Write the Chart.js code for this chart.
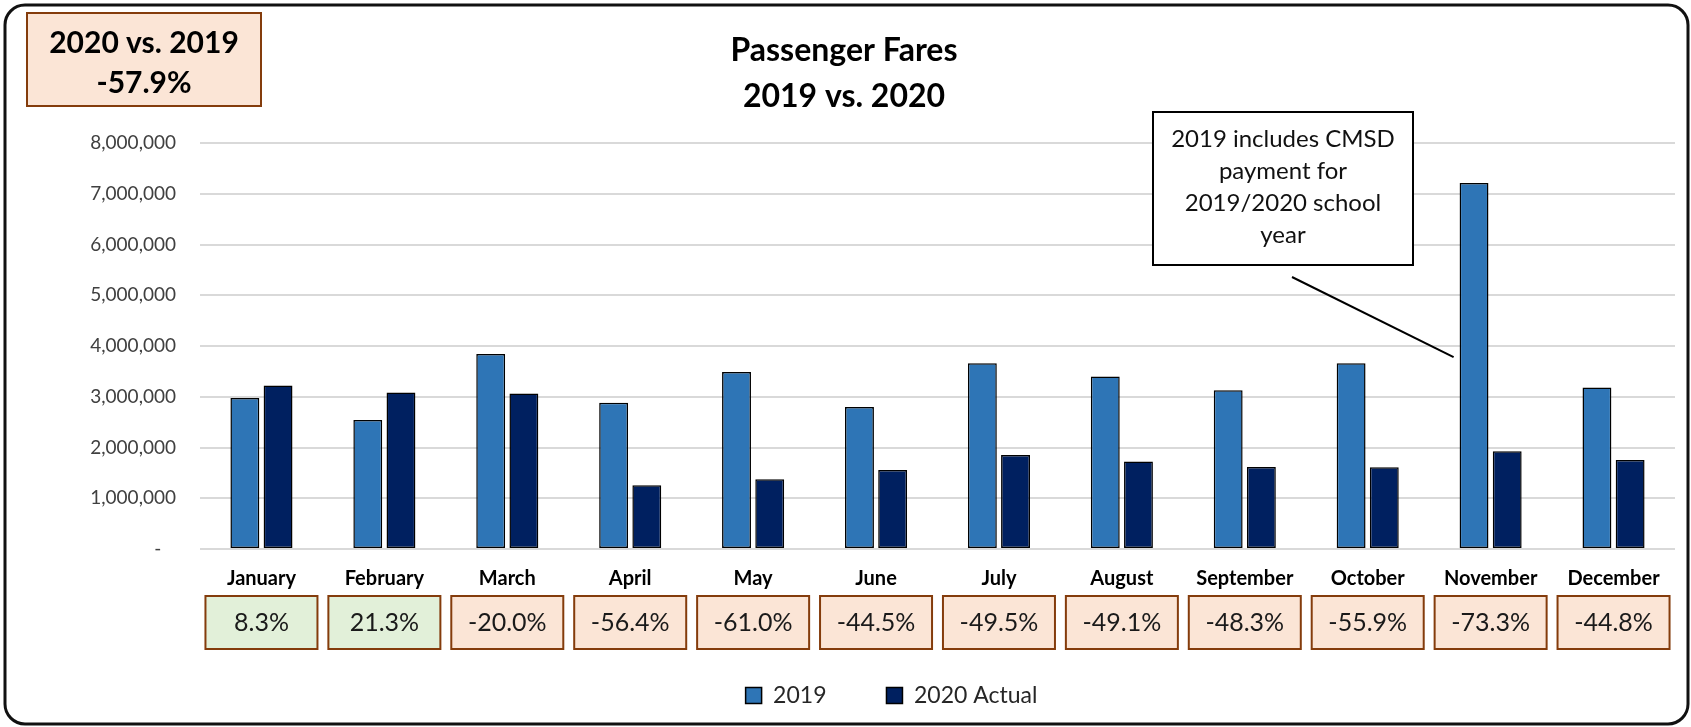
<!DOCTYPE html>
<html>
<head>
<meta charset="utf-8">
<script src="https://cdn.jsdelivr.net/npm/chart.js@4.4.0/dist/chart.umd.min.js"></script>
<style>
  html, body { margin: 0; padding: 0; background: #fff; }
</style>
</head>
<body>
<canvas id="fares" width="1691" height="727"></canvas>
<script>
var months = ["January", "February", "March", "April", "May", "June", "July", "August", "September", "October", "November", "December"];
var fares2019 = [2975000, 2540000, 3840000, 2880000, 3490000, 2800000, 3660000, 3400000, 3130000, 3660000, 7210000, 3180000];
var fares2020 = [3220000, 3085000, 3065000, 1258000, 1375000, 1556000, 1850000, 1725000, 1615000, 1612000, 1928000, 1755000];
var changeLabels = ["8.3%", "21.3%", "-20.0%", "-56.4%", "-61.0%", "-44.5%", "-49.5%", "-49.1%", "-48.3%", "-55.9%", "-73.3%", "-44.8%"];
var seriesNames = ["2019", "2020 Actual"];
var titleLines = ["Passenger Fares", "2019 vs. 2020"];
var totalLines = ["2020 vs. 2019", "-57.9%"];
var noteLines = ["2019 includes CMSD", "payment for", "2019/2020 school", "year"];
var yMax = 8000000;
var yStep = 1000000;

var FONT = "Lato, 'Liberation Sans', sans-serif";
Chart.defaults.font.family = FONT;

// boxes, title, callout - everything Excel had floating over the chart
var extras = {
  id: "extras",
  afterLayout: function (chart) {
    // legend sat a bit right of the page centre in the original
    chart.legend.left += 14;
    chart.legend.right += 14;
  },
  afterDraw: function (chart) {
    var ctx = chart.ctx;
    var xs = chart.scales.x;
    var ys = chart.scales.y;
    ctx.save();

    // outer frame
    ctx.lineWidth = 3;
    ctx.strokeStyle = "#111";
    ctx.beginPath();
    ctx.roundRect(5, 5, 1683, 719, 20);
    ctx.stroke();

    ctx.textAlign = "center";
    ctx.textBaseline = "middle";

    // title
    ctx.fillStyle = "#000";
    ctx.font = "bold 32px " + FONT;
    ctx.fillText(titleLines[0], 844, 51);
    ctx.fillText(titleLines[1], 844, 97);

    // total change box
    ctx.fillStyle = "#FBE5D6";
    ctx.fillRect(27, 13, 234, 93);
    ctx.lineWidth = 2;
    ctx.strokeStyle = "#843C0C";
    ctx.strokeRect(27, 13, 234, 93);
    ctx.fillStyle = "#000";
    ctx.font = "bold 30px " + FONT;
    ctx.fillText(totalLines[0], 144, 43);
    ctx.fillText(totalLines[1], 144, 83);

    // callout
    var bar = chart.getDatasetMeta(0).data[10];
    ctx.lineWidth = 2;
    ctx.strokeStyle = "#000";
    ctx.beginPath();
    ctx.moveTo(1292, 277);
    ctx.lineTo(bar.x - bar.width / 2 - 6, ys.getPixelForValue(3780000));
    ctx.stroke();
    ctx.fillStyle = "#fff";
    ctx.fillRect(1153, 112, 260, 153);
    ctx.strokeRect(1153, 112, 260, 153);
    ctx.fillStyle = "#111";
    ctx.font = "24px " + FONT;
    noteLines.forEach(function (t, i) {
      ctx.fillText(t, 1283, 139 + i * 32);
    });

    // month-by-month change boxes
    ctx.font = "25px " + FONT;
    changeLabels.forEach(function (t, i) {
      var cx = xs.getPixelForValue(i);
      var up = t.charAt(0) !== "-";
      ctx.fillStyle = up ? "#E2F0D9" : "#FBE5D6";
      ctx.fillRect(cx - 56, 596, 112, 53);
      ctx.lineWidth = 2;
      ctx.strokeStyle = "#843C0C";
      ctx.strokeRect(cx - 56, 596, 112, 53);
      ctx.fillStyle = "#1a1a1a";
      ctx.fillText(t, cx, 623);
    });

    ctx.restore();
  }
};

new Chart(document.getElementById("fares"), {
  type: "bar",
  data: {
    labels: months,
    datasets: [{
      label: seriesNames[0],
      data: fares2019,
      backgroundColor: "#2E75B6",
      borderColor: "#000",
      borderWidth: 1.5,
      borderSkipped: false
    }, {
      label: seriesNames[1],
      data: fares2020,
      backgroundColor: "#002060",
      borderColor: "#000",
      borderWidth: 1.5,
      borderSkipped: false
    }]
  },
  options: {
    responsive: false,
    animation: false,
    devicePixelRatio: 1,
    categoryPercentage: 0.54,
    barPercentage: 0.87,
    layout: { padding: { top: 143, left: 80, right: 16, bottom: 10 } },
    plugins: {
      legend: {
        position: "bottom",
        labels: {
          boxWidth: 16,
          boxHeight: 16,
          padding: 60,
          color: "#262626",
          font: { size: 23 }
        }
      },
      tooltip: { enabled: false }
    },
    scales: {
      x: {
        grid: { display: false },
        border: { display: false },
        ticks: { color: "#000", padding: 10, font: { size: 20, weight: "bold" } },
        afterFit: function (s) { s.height = 75; }
      },
      y: {
        min: 0,
        max: yMax,
        grid: { color: "#D9D9D9", lineWidth: 2, drawTicks: false },
        border: { display: false },
        ticks: {
          stepSize: yStep,
          padding: 24,
          color: "#404040",
          font: { size: 19 },
          callback: function (v) { return v === 0 ? "-   " : v.toLocaleString("en-US"); }
        },
        afterFit: function (s) { s.width = 120; }
      }
    }
  },
  plugins: [extras]
});
</script>
</body>
</html>
